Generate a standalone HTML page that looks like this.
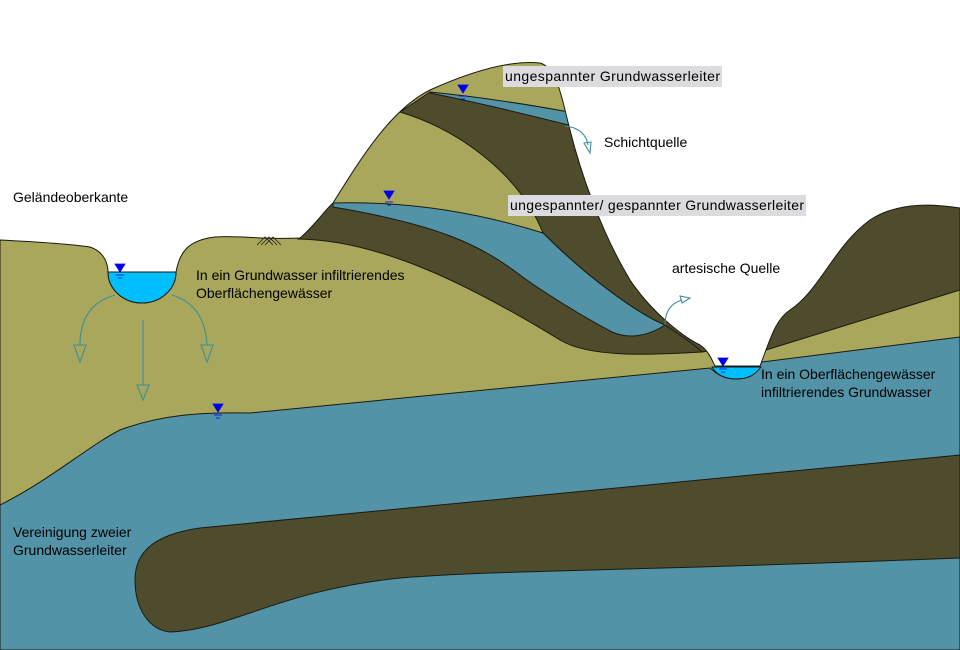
<!DOCTYPE html>
<html><head><meta charset="utf-8"><style>
html,body{margin:0;padding:0;background:#fff;width:960px;height:650px;overflow:hidden}
text{font-family:"Liberation Sans",sans-serif;font-size:14px;fill:#000}
</style></head><body>
<svg width="960" height="650" viewBox="0 0 960 650" xmlns="http://www.w3.org/2000/svg">
<defs>
<path id="gr" d="M0,240 C40,242 70,244 90,247 C105,252 108,265 108,272 A34,31 0 0 0 176,272 C180,250 190,240 215,237 C240,235 260,240 300,238 C315,225 325,210 333,203 C360,160 390,110 430,90 C470,72 510,60 540,63 C558,68 562,100 570,130 C580,170 600,230 630,280 C650,310 680,335 700,345 C708,350 712,360 715,366 L760,366 C770,340 775,320 790,310 C820,290 835,245 870,220 C900,200 940,205 960,208 L960,650 L0,650 Z"/>
<clipPath id="cg"><use href="#gr"/></clipPath>
</defs>
<use href="#gr" fill="#a8a75b"/>
<g stroke="#1a1a10" stroke-width="1" clip-path="url(#cg)">
<path fill="#5393a8" d="M0,505 C50,480 90,445 120,430 C160,415 200,412 250,413 L710,368 C715,372 720,378 735,379 C750,379 755,372 762,362 L960,337 L960,650 L0,650 Z"/>
<path fill="#4e4c2c" d="M960,455 L200,528 C150,535 135,555 135,580 C135,610 150,630 170,632 C230,630 280,590 400,578 C500,570 600,572 960,558 Z"/>
<path fill="#4e4c2c" d="M766,350 L960,290 L960,150 L766,150 Z"/>
<path fill="#4e4c2c" d="M400,112 L430,92 C480,100 530,108 620,135 L725,348 L702,352 C690,345 680,335 665,325 C640,315 590,280 543,233 C520,175 460,130 400,112 Z"/>
<path fill="#5393a8" d="M430,92 C480,97 530,104 600,118 L600,133 C530,115 480,103 430,93 Z"/>
<path fill="#4e4c2c" d="M298,239 L328,196 L333,203 C400,206 460,212 543,233 C590,280 640,315 665,325 C680,335 695,345 702,352 C650,355 590,358 560,340 C470,285 380,240 298,239 Z"/>
<path fill="#5393a8" d="M333,203 C400,201 470,210 543,233 C590,280 640,315 665,325 C650,335 630,340 612,332 C580,315 540,290 520,275 C480,245 440,225 333,207 Z"/>
</g>
<use href="#gr" fill="none" stroke="#1a1a10" stroke-width="1"/>
<g stroke="#1a1a10" stroke-width="1">
<path fill="#00bfff" d="M108,272 L176,272 A34,31 0 0 1 108,272 Z"/>
<path fill="#00bfff" d="M712,367 L761,367 C755,375 748,379 736,379 C724,379 716,374 712,367 Z"/>
</g>
<g stroke="#222" stroke-width="0.8" fill="none"><path d="M257,245 L265,237 L273,245 M261,245 L269,237 L277,245 M265,245 L273,237 L281,245"/></g>
<g stroke="#3d8f9a" stroke-width="1.1" fill="none">
<path d="M115,295 Q80,305 80,345"/><path d="M74,345 L86,345 L80,362 Z"/>
<path d="M143,320 L143,385"/><path d="M137,385 L149,385 L143,400 Z"/>
<path d="M172,295 Q205,305 207,345"/><path d="M201,345 L213,345 L207,362 Z"/>
<path d="M565,126 Q585,128 588,145"/><path d="M584,143 L591,142 L590,153 Z"/>
<path d="M665,325 Q665,305 682,300"/><path d="M680,296 L690,298 L682,303 Z"/>
</g>
<g fill="#0000ee" stroke="#0000ee" stroke-width="0.8">
<path d="M115,264 L125,264 L120,272 Z"/><line x1="116" y1="275" x2="124" y2="275"/><line x1="118" y1="278" x2="122" y2="278"/>
<path d="M213,404 L223,404 L218,412 Z"/><line x1="214" y1="415" x2="222" y2="415"/><line x1="216" y1="418" x2="220" y2="418"/>
<path d="M458,85 L468,85 L463,93 Z"/><line x1="459" y1="96" x2="467" y2="96"/><line x1="461" y1="99" x2="465" y2="99"/>
<path d="M384,191 L394,191 L389,199 Z"/><line x1="385" y1="202" x2="393" y2="202"/><line x1="387" y1="205" x2="391" y2="205"/>
<path d="M718,358 L728,358 L723,366 Z"/><line x1="719" y1="369" x2="727" y2="369"/><line x1="721" y1="372" x2="725" y2="372"/>
</g>
<rect x="503" y="66" width="219" height="21" fill="#dcdce0"/>
<rect x="508" y="195" width="298" height="21" fill="#dcdce0"/>
<text x="505" y="81" textLength="215">ungespannter Grundwasserleiter</text>
<text x="604" y="147">Schichtquelle</text>
<text x="510" y="210" textLength="294">ungespannter/ gespannter Grundwasserleiter</text>
<text x="13" y="202">Geländeoberkante</text>
<text x="672" y="273">artesische Quelle</text>
<text x="196" y="280">In ein Grundwasser infiltrierendes</text>
<text x="196" y="298">Oberflächengewässer</text>
<text x="761" y="379">In ein Oberflächengewässer</text>
<text x="761" y="397">infiltrierendes Grundwasser</text>
<text x="13" y="537">Vereinigung zweier</text>
<text x="13" y="555">Grundwasserleiter</text>
</svg>
</body></html>
